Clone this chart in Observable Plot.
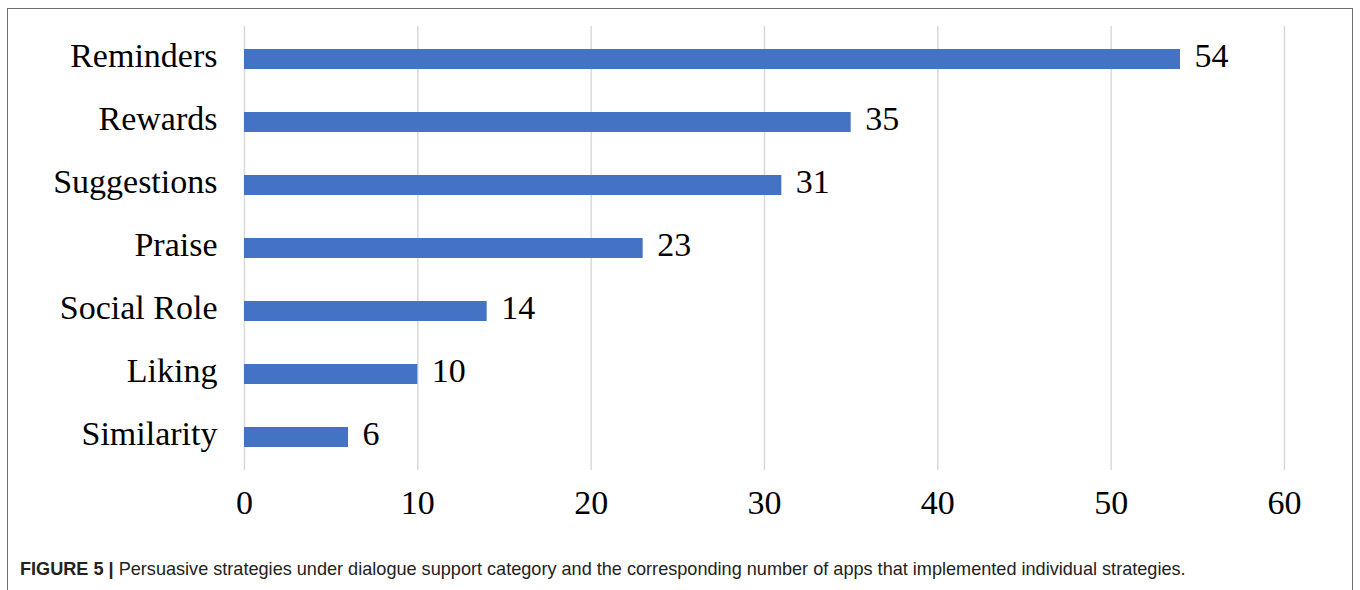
<!DOCTYPE html>
<html>
<head>
<meta charset="utf-8">
<script src="https://cdn.jsdelivr.net/npm/d3@7"></script>
<script src="https://cdn.jsdelivr.net/npm/@observablehq/plot@0.6"></script>
<style>
  html, body { margin: 0; padding: 0; background: #fff; width: 1360px; height: 590px; overflow: hidden; }
  #frame { position: absolute; left: 7px; top: 8px; width: 1346px; height: 640px; border: 1.5px solid #6e6e6e; box-sizing: border-box; }
  #chart { position: absolute; left: 0; top: 0; }
  #caption { position: absolute; left: 20px; top: 558px; font-family: "Liberation Sans", Arial, sans-serif; font-size: 19px; line-height: 22px; color: #222; white-space: nowrap; transform: scaleX(0.953); transform-origin: 0 0; }
  #caption b { font-weight: bold; }
</style>
</head>
<body>
<div id="frame"></div>
<div id="chart"></div>
<div id="caption"><b>FIGURE 5 |</b> Persuasive strategies under dialogue support category and the corresponding number of apps that implemented individual strategies.</div>
<script>
const strategies = ["Reminders", "Rewards", "Suggestions", "Praise", "Social Role", "Liking", "Similarity"];
const appCounts = [54, 35, 31, 23, 14, 10, 6];
const xTicks = [0, 10, 20, 30, 40, 50, 60];

const data = strategies.map((s, i) => ({strategy: s, count: appCounts[i]}));

const chart = Plot.plot({
  width: 1360,
  height: 530,
  marginLeft: 244,
  marginRight: 76,
  marginTop: 26,
  marginBottom: 60,
  style: {fontFamily: "'Liberation Serif', 'Times New Roman', serif", fontSize: "34px", color: "#000", background: "transparent"},
  x: {domain: [0, 60], ticks: xTicks, label: null, tickSize: 0, tickPadding: 20},
  y: {domain: strategies, label: null, tickSize: 0, tickPadding: 27, paddingInner: 0.68, paddingOuter: 0.34},
  marks: [
    Plot.gridX(xTicks, {stroke: "#d9d9d9", strokeOpacity: 1, strokeWidth: 1.5}),
    Plot.barX(data, {x: "count", y: "strategy", fill: "#4472C4"}),
    Plot.text(data, {x: "count", y: "strategy", text: d => String(d.count), textAnchor: "start", dx: 14, dy: -3, fill: "#000", fontSize: 34}),
    Plot.axisX({ticks: xTicks, tickSize: 0, tickPadding: 19, fontSize: 34, label: null}),
    Plot.axisY({tickSize: 0, tickPadding: 27, fontSize: 34, dy: -3, label: null})
  ]
});
document.getElementById("chart").appendChild(chart);
</script>
</body>
</html>
